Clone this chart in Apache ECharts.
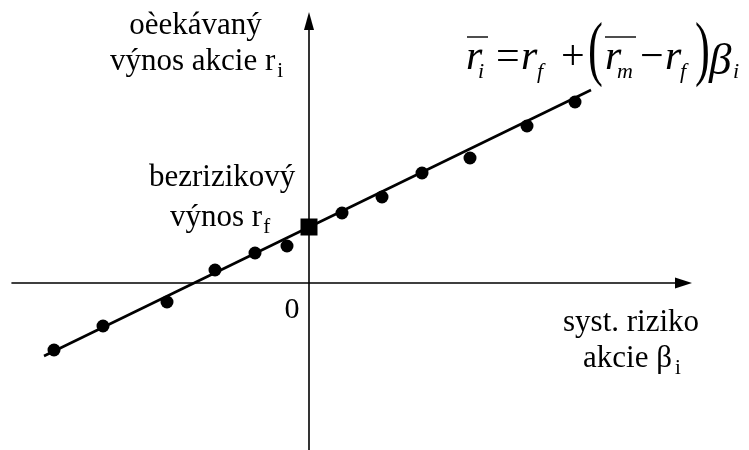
<!DOCTYPE html>
<html>
<head>
<meta charset="utf-8">
<script src="https://cdn.jsdelivr.net/npm/echarts@6/dist/echarts.min.js"></script>
<style>
  html, body { margin: 0; padding: 0; background: #fff; }
  #chart { width: 749px; height: 450px; }
</style>
</head>
<body>
<div id="chart"></div>
<script>
// Beta and expected return of individual stocks (scatter)
const betaValues   = [-2.55, -2.06, -1.42, -0.94, -0.54, -0.22, 0.33, 0.73, 1.13, 1.61, 2.18, 2.66];
const returnValues = [-0.67, -0.43, -0.19,  0.13,  0.30,  0.37, 0.70, 0.86, 1.10, 1.25, 1.57, 1.81];

// Risk-free return (beta = 0)
const riskFreePoint = [0, 0.56];

// Security market line end points
const smlBeta   = [-2.65, 2.82];
const smlReturn = [-0.73, 1.93];

// Axis ranges
const xRange = [-2.97, 3.745];
const yRange = [-1.67, 2.62];

const SERIF = '"Liberation Serif", "Times New Roman", serif';
const BIG = 31, SUB = 21, EQ = 42, EQSUB = 22;

const measureCtx = document.createElement('canvas').getContext('2d');
function fontOf(size, italic) {
  return (italic ? 'italic ' : '') + size + 'px ' + SERIF;
}
function widthOf(str, size, italic) {
  measureCtx.font = fontOf(size, italic);
  return measureCtx.measureText(str).width;
}

function txt(str, x, baseline, size, opts) {
  opts = opts || {};
  const align = opts.align || 'left';
  return {
    type: 'text',
    x: x,
    y: baseline - 0.34 * size,
    scaleX: opts.scaleX || 1,
    scaleY: opts.scaleY || 1,
    z: 10,
    style: {
      text: str,
      font: fontOf(size, opts.italic),
      fill: '#000',
      align: align,
      textAlign: align,
      verticalAlign: 'middle',
      textVerticalAlign: 'middle'
    }
  };
}
// main text followed by a subscript placed right after it
function withSub(main, sub, x, baseline, gap) {
  const w = widthOf(main, BIG, false);
  return [
    txt(main, x, baseline, BIG),
    txt(sub, x + w + (gap || 1), baseline + 7, SUB)
  ];
}
function bar(x1, x2, y) {
  return {
    type: 'line', z: 10,
    shape: { x1: x1, y1: y, x2: x2, y2: y },
    style: { stroke: '#000', lineWidth: 1.4 }
  };
}

const chart = echarts.init(document.getElementById('chart'), null, { renderer: 'canvas' });

const axisCommon = {
  type: 'value',
  axisLine: {
    show: true, onZero: true,
    symbol: ['none', 'triangle'],
    lineStyle: { color: '#000', width: 1.6 }
  },
  axisTick: { show: false },
  axisLabel: { show: false },
  splitLine: { show: false }
};

chart.setOption({
  animation: false,
  backgroundColor: '#fff',
  grid: { left: 12, right: 65.5, top: 21, bottom: 0, containLabel: false },
  xAxis: Object.assign({}, axisCommon, {
    min: xRange[0], max: xRange[1],
    axisLine: Object.assign({}, axisCommon.axisLine, { symbolSize: [11, 17] })
  }),
  yAxis: Object.assign({}, axisCommon, {
    min: yRange[0], max: yRange[1],
    axisLine: Object.assign({}, axisCommon.axisLine, { symbolSize: [10, 18] })
  }),
  series: [
    {
      type: 'line',
      data: smlBeta.map((b, i) => [b, smlReturn[i]]),
      symbol: 'none',
      lineStyle: { color: '#000', width: 2.6 },
      z: 2
    },
    {
      type: 'scatter',
      data: betaValues.map((b, i) => [b, returnValues[i]]),
      symbol: 'circle',
      symbolSize: 13,
      itemStyle: { color: '#000', opacity: 1 },
      z: 3
    },
    {
      type: 'scatter',
      data: [riskFreePoint],
      symbol: 'rect',
      symbolSize: 17,
      itemStyle: { color: '#000', opacity: 1 },
      z: 4
    }
  ],
  graphic: [
    // y-axis title
    txt('oèekávaný', 195.5, 36, BIG, { align: 'center' }),
    ...withSub('výnos akcie r', 'i', 110, 72, 2),
    // risk-free label
    txt('bezrizikový', 149, 188, BIG),
    ...withSub('výnos r', 'f', 170, 228, 0),
    // origin
    txt('0', 292, 320, 30, { align: 'center' }),
    // x-axis title
    txt('syst. riziko', 563, 333, BIG),
    ...withSub('akcie β', 'i', 583, 369, 3),
    // SML equation
    bar(467, 488, 37),
    txt('r', 466, 72, EQ, { italic: true }),
    txt('i', 478, 80, EQSUB, { italic: true }),
    txt('=', 496, 72, EQ),
    txt('r', 521, 72, EQ, { italic: true }),
    txt('f', 537, 80, EQSUB, { italic: true }),
    txt('+', 561, 72, EQ),
    txt('(', 588, 78, 72, { scaleX: 0.62 }),
    bar(605, 636, 37),
    txt('r', 605, 72, EQ, { italic: true }),
    txt('m', 617, 80, EQSUB, { italic: true }),
    txt('−', 640, 72, EQ),
    txt('r', 665, 72, EQ, { italic: true }),
    txt('f', 680, 80, EQSUB, { italic: true }),
    txt(')', 695, 78, 72, { scaleX: 0.62 }),
    txt('β', 709, 77, 45, { italic: true }),
    txt('i', 733, 80, EQSUB, { italic: true })
  ]
});
</script>
</body>
</html>
